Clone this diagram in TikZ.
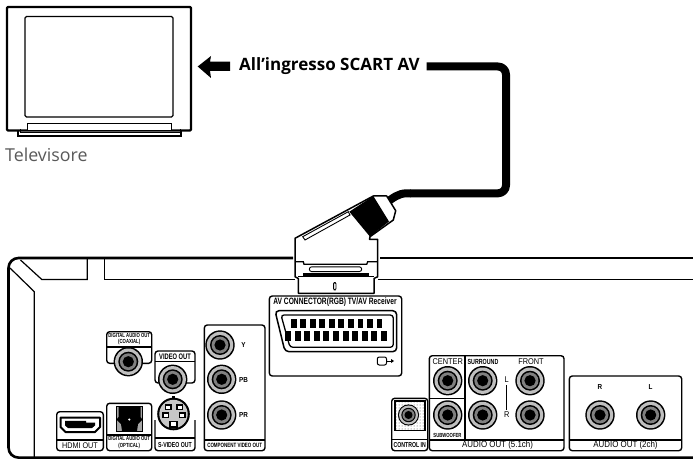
\documentclass[tikz,border=0pt]{standalone}
\usepackage{fontspec}
\usetikzlibrary{patterns}
\setmainfont{Open Sans}
\newfontfamily\narrowf[FakeStretch=0.72]{Liberation Sans}
\newfontfamily\midf[FakeStretch=0.88]{Liberation Sans}
\newcommand{\rcajack}[3][1]{\begin{scope}[shift={(#2,#3)},scale=#1]
\fill[black] (0,0) circle[radius=14.7];
\fill[black!25] (0,0) circle[radius=13.2];
\fill[black] (0,0) circle[radius=10];
\fill[black!50] (0,0) circle[radius=8.4];
\fill[black] (0,0) circle[radius=5.6];
\end{scope}}
\tikzset{
 panel/.style={draw=black,line width=1.4pt,rounded corners=3pt,fill=white},
 thin rule/.style={draw=black,line width=1.1pt},
 body/.style={draw=black,line width=2.6pt},
 bodythin/.style={draw=black,line width=1.2pt},
 lbl/.style={inner sep=0pt,text=black,font=\midf\fontsize{8.4}{9}\selectfont},
 nlbl/.style={inner sep=0pt,text=black,font=\narrowf\bfseries\fontsize{6}{6.5}\selectfont,align=center},
 jacklbl/.style={inner sep=0pt,text=black,font=\midf\bfseries\fontsize{7.2}{8}\selectfont},
 pin/.style={fill=black},
 svpin/.style={draw=black,line width=1.1pt,fill=white}
}
\begin{document}
\begin{tikzpicture}[x=1pt,y=-1pt]
\useasboundingbox (0,0) rectangle (693,465);
% television
\draw[line width=2.4pt,line join=round,rounded corners=1pt] (7,7) rectangle (191,130.5);
\draw[line width=1.3pt,rounded corners=1.5pt] (25,16.5) rectangle (173,117);
\draw[line width=1pt,fill=white] (27,130) -- (27,124) -- (171,124) -- (171,130);
\draw[line width=1pt] (20,129.5) -- (20,133) -- (180,133) -- (180,129.5);
\draw[line width=2.4pt] (18,130) -- (18,136) -- (181,136) -- (181,130);
\node[inner sep=0pt,anchor=west,text=black!65,font=\fontsize{17.8}{18}\selectfont] (tvlabel) at (5,154.5) {Televisore};
% arrow and caption
\fill[black] (197.7,66.5) -- (211,56) -- (210,61.7) -- (230,61.7) -- (230,70.8) -- (210,70.8) -- (211,78) -- cycle;
\node[inner sep=0pt,anchor=west,font=\bfseries\fontsize{17}{18}\selectfont] (caption) at (239,66.5) {All'ingresso SCART AV};
% cable
\coordinate (cablestart) at (426.7,66.5);
\coordinate (plugtail) at (386,203);
\draw[line width=8pt,line join=round,rounded corners=8pt] (cablestart) -- (506,66.5) -- (506,193.3) -- (410,193.3);
\draw[line width=8pt] (410.5,193.3) -- (407,193.3) .. controls (398,193.3) and (393,198) .. (plugtail);
% player body
\draw[body,rounded corners=10pt] (293,258) -- (8.5,258) -- (8.5,457.6) -- (693,457.6);
\draw[body] (380,258) -- (693,258);
\draw[bodythin] (378,279.4) -- (693,279.4);
\draw[bodythin] (20.5,260) -- (41.7,279.4) -- (87.3,279.4) -- (87.3,258);
\draw[bodythin] (295,279.4) -- (104.3,279.4) -- (104.3,258);
\draw[bodythin] (10,268) -- (34.3,291.7) -- (34.3,457);
% plug
\draw[line width=1.5pt,fill=white,line join=round] (295,238.3) -- (373.3,196) -- (386.7,196) -- (395.7,210.7) -- (393.3,220) -- (370,236.7) -- (369.5,239.3) -- (377.7,239.3) -- (377.7,276.7) -- (374,278.5) -- (374,293.3) -- (298.3,293.3) -- (298.3,278.5) -- (295,276.7) -- cycle;
\fill[black] (349.3,211.7) -- (373.3,196) -- (389,221.5) -- (370,236.7) -- cycle;
\draw[line width=0.9pt] (302.7,236.7) -- (348.3,211.7) -- (350,215) -- (305,240) -- cycle;
\draw[line width=1.3pt] (295,261.7) -- (303.3,261.7) -- (304,264.3) -- (366.7,264.3) -- (367.7,261.7) -- (377.7,261.7);
\draw[line width=0.9pt,rounded corners=2.4pt] (309.3,266.8) rectangle (361.7,271.6);
\fill[black] (302.7,273) rectangle (368.7,276);
\draw[line width=1.3pt] (298.3,276.7) -- (374,276.7);
\draw[line width=0.8pt,rounded corners=1.2pt] (333.6,282.5) rectangle (335.9,290);
% SCART panel
\draw[panel] (269.3,296) rectangle (401.7,376);
\node[inner sep=0pt,font=\narrowf\bfseries\fontsize{9.25}{10}\selectfont,text=black] (scartlabel) at (335,302) {AV CONNECTOR(RGB) TV/AV Receiver};
\draw[line width=1.5pt,rounded corners=4pt] (275,310.7) -- (396.7,310.7) -- (396.7,351.7) -- (285,351.7) -- cycle;
\draw[line width=1.3pt,rounded corners=3pt] (281,315) -- (393.3,315) -- (393.3,347.3) -- (290,347.3) -- cycle;
\foreach \i in {0,...,9} \fill[pin] ({290.7+\i*9.55},319) rectangle +(5.8,9.3);
\foreach \i in {0,...,10} \fill[pin] ({285+\i*9.6},331.4) rectangle +(6,9.4);
\draw[line width=1pt,rounded corners=2pt] (377.3,357) rectangle (386.5,365);
\draw[line width=0.9pt] (386.5,361) -- (392,361);
\fill[black] (394,361) -- (391,359) -- (391,363) -- cycle;
% coaxial
\draw[panel] (106.7,331.7) rectangle (151.7,363.3);
\draw[thin rule] (106.7,347) -- (151.7,347);
\node[nlbl,font=\narrowf\bfseries\fontsize{5.9}{6.2}\selectfont] (coaxlabel) at (129.2,339.2) {DIGITAL AUDIO OUT\\(COAXIAL)};
\rcajack{128.3}{361.7}
% video out
\draw[panel] (155,351) rectangle (195,383);
\draw[thin rule] (155,361.7) -- (195,361.7);
\node[nlbl,font=\narrowf\bfseries\fontsize{8}{8.5}\selectfont] (videolabel) at (175,356.5) {VIDEO OUT};
\rcajack{172.7}{379.3}
% HDMI
\draw[panel] (56.7,411.7) rectangle (103.3,450.7);
\draw[thin rule] (56.7,440) -- (103.3,440);
\node[lbl,font=\midf\fontsize{8.2}{9}\selectfont] (hdmilabel) at (80,445.3) {HDMI OUT};
\draw[line width=2pt,line join=round,fill=white] (60.5,417.5) -- (100,417.5) -- (100,427) -- (95,432) -- (65.5,432) -- (60.5,427) -- cycle;
\fill[black] (65,420.8) -- (86,420.8) -- (86,422.5) -- (95,422.5) -- (95,425.5) -- (92,428) -- (68,428) -- (65,425.5) -- cycle;
% optical
\draw[panel] (106.7,403.3) rectangle (151.7,450.7);
\draw[thin rule] (106.7,435) -- (151.7,435);
\fill[black!35] (116,406) rectangle (142.7,431.7);
\draw[line width=0.8pt] (116,406) rectangle (142.7,431.7);
\fill[black] (118.5,407) -- (140.5,407) -- (140.5,417) -- (142.5,419.5) -- (138,424) -- (137,431) -- (122,431) -- (121,424) -- (116.5,419.5) -- (118.5,417) -- cycle;
\fill[white] (129.3,419.5) circle[radius=1.2];
\node[nlbl,font=\narrowf\bfseries\fontsize{5.9}{6.4}\selectfont] (optlabel) at (129.2,442.6) {DIGITAL AUDIO OUT\\(OPTICAL)};
% S-video
\draw[panel] (155,420) -- (155,450.7) -- (195,450.7) -- (195,420);
\draw[thin rule] (155,438) -- (195,438);
\node[nlbl,font=\narrowf\bfseries\fontsize{7.2}{8}\selectfont] (svlabel) at (175,444.6) {S-VIDEO OUT};
\fill[black] (172,396) rectangle (175,400);
\fill[black] (173.5,414) circle[radius=16.3];
\fill[black!22] (173.5,414) circle[radius=14.2];
\draw[svpin] (165.5,405) rectangle (171,409.5);
\draw[svpin] (177,405) rectangle (182.5,409.5);
\draw[svpin] (163,413) rectangle (168.5,417.5);
\draw[svpin] (179.5,413) rectangle (185,417.5);
\draw[svpin] (170,421.5) rectangle (177,427);
% component
\draw[panel] (204.3,325) rectangle (265,450.7);
\draw[thin rule] (204.3,440) -- (265,440);
\node[nlbl,font=\narrowf\bfseries\fontsize{6.2}{7}\selectfont] (complabel) at (234.7,445.4) {COMPONENT VIDEO OUT};
\rcajack{220}{345}
\rcajack{221.7}{379.3}
\rcajack{221.7}{415}
\node[jacklbl] (ylabel) at (243.5,345) {Y};
\node[jacklbl] (pblabel) at (243.5,380) {PB};
\node[jacklbl] (prlabel) at (243.5,415.5) {PR};
% control in
\draw[panel] (391.7,398.3) rectangle (427.7,450.7);
\draw[thin rule] (391.7,439.5) -- (427.7,439.5);
\path[pattern=dots,pattern color=black!70] (395,401) rectangle (425,430.7);
\draw[line width=1.5pt] (395,401) rectangle (425,430.7);
\rcajack[0.72]{408.5}{415}
\node[nlbl,font=\narrowf\bfseries\fontsize{7.2}{8}\selectfont] (ctrllabel) at (409.7,445.3) {CONTROL IN};
% audio 5.1
\draw[panel] (429.3,355.7) rectangle (564,450.7);
\draw[thin rule] (429.3,440) -- (564,440);
\draw[thin rule] (465,355.7) -- (465,440);
\draw[thin rule] (429.3,398.3) -- (465,398.3);
\rcajack{447.7}{380.7}
\rcajack{447.7}{415}
\rcajack{482.7}{380.7}
\rcajack{482.7}{415}
\rcajack{530}{380.7}
\rcajack{530}{415}
\node[lbl] (centerlabel) at (447.7,361.5) {CENTER};
\node[nlbl,font=\narrowf\bfseries\fontsize{7.4}{8}\selectfont] (surlabel) at (483,361.5) {SURROUND};
\node[lbl] (frontlabel) at (531,361.5) {FRONT};
\node[nlbl,font=\narrowf\bfseries\fontsize{5.9}{7}\selectfont] (sublabel) at (447.5,435.5) {SUBWOOFER};
\node[lbl] (llabel) at (506.7,380) {L};
\node[lbl] (rlabel) at (506.7,415) {R};
\draw[line width=1.1pt] ([yshift=-2pt]llabel.south) -- ([yshift=2pt]rlabel.north);
\node[lbl,font=\midf\fontsize{9}{10}\selectfont] (a51label) at (497.5,445.4) {AUDIO OUT (5.1ch)};
% audio 2ch
\draw[panel] (569.3,376) rectangle (681.7,450.7);
\draw[thin rule] (569.3,440) -- (681.7,440);
\rcajack{600}{415}
\rcajack{650.7}{415}
\node[jacklbl] (r2label) at (600,387.5) {R};
\node[jacklbl] (l2label) at (650.5,387.5) {L};
\node[lbl,font=\midf\fontsize{9}{10}\selectfont] (a2label) at (625.5,445.4) {AUDIO OUT (2ch)};
\end{tikzpicture}
\end{document}
